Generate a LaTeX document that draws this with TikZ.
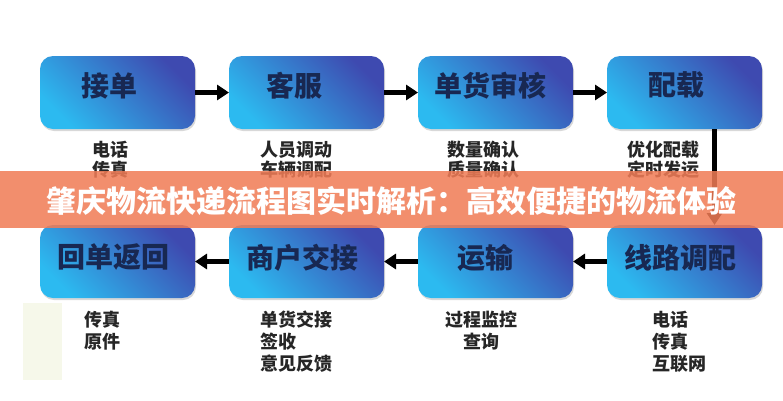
\documentclass[tikz,border=0pt]{standalone}
\usepackage{fontspec}
\setmainfont{Noto Sans CJK SC}
\usepackage{tikz}
\usetikzlibrary{arrows.meta,positioning,shadows}

\definecolor{boxlight}{RGB}{44,186,240}
\definecolor{boxdark}{RGB}{62,74,176}
\definecolor{navy}{RGB}{24,40,82}
\definecolor{banner}{RGB}{241,124,86}
\definecolor{pale}{RGB}{246,248,234}

\begin{document}
\begin{tikzpicture}[x=1pt,y=-1pt,-{Triangle[length=12pt,width=15pt]},line width=4.5pt,
	node distance=189pt]
	\tikzstyle{stage}=[draw=none,rounded corners=13pt,minimum width=155pt,minimum height=73pt,
		outer sep=0pt,top color=boxdark,bottom color=boxlight,shading angle=-45,
		drop shadow={opacity=0.3,shadow xshift=1pt,shadow yshift=-2pt}]
	\tikzstyle{title}=[text=navy,font=\bfseries\fontsize{28}{28}\selectfont]
	\tikzstyle{note}=[text=black!85,font=\bfseries\fontsize{18}{20}\selectfont,align=left,
		anchor=north west,inner sep=0pt]
	
	\fill[white] (0,0) rectangle (783,400);
	\useasboundingbox (0,0) rectangle (783,400);
	\fill[pale] (23,303) rectangle (62,380);
	
	% top row
	\node[stage,label={[title,xshift=-8pt,yshift=7pt]center:接单}] (jd) at (117.5,92.5) {};
	\node[stage,label={[title,xshift=-12pt,yshift=7pt]center:客服}] (kf) [right of=jd] {};
	\node[stage,label={[title,xshift=-5pt,yshift=7pt]center:单货审核}] (sh) [right of=kf] {};
	\node[stage,label={[title,xshift=-8pt,yshift=7pt]center:配载}] (pz) [right of=sh] {};
	% bottom row
	\node[stage,label={[title,xshift=-4pt,yshift=4pt]center:线路调配}] (xl) [below of=pz,node distance=169pt] {};
	\node[stage,label={[title,xshift=-10pt,yshift=4pt]center:运输}] (ys) [left of=xl] {};
	\node[stage,label={[title,xshift=-4pt,yshift=4pt]center:商户交接}] (jj) [left of=ys] {};
	\node[stage,label={[title,xshift=-4pt,yshift=4pt]center:回单返回}] (hd) [left of=jj] {};
	
	\node[note] (jdn) at (90,139) {电话\\传真};
	\node[note] (kfn) at (258,139) {人员调动\\车辆调配};
	\node[note] (shn) at (445,139) {数量确认\\质量确认};
	\node[note] (pzn) at (625,139) {优化配载\\定时发运};
	\node[note,font=\bfseries\fontsize{18}{22}\selectfont] (hdn) at (82,309) {传真\\原件};
	\node[note,font=\bfseries\fontsize{18}{22}\selectfont] (jjn) at (258,309) {单货交接\\签收\\意见反馈};
	\node[note,font=\bfseries\fontsize{18}{22}\selectfont,align=center,anchor=north] (ysn) at (481,309) {过程监控\\查询};
	\node[note,font=\bfseries\fontsize{18}{22}\selectfont] (xln) at (650,309) {电话\\传真\\互联网};
	
	\path (jd) edge (kf)
	(kf) edge (sh)
	(sh) edge (pz)
	([xshift=30pt]pz.south) edge ([xshift=30pt]xl.north)
	(xl) edge (ys)
	(ys) edge (jj)
	(jj) edge (hd);
	
	% banner over the picture
	\fill[banner,opacity=0.86] (0,171) rectangle (783,228);
	\node[text=white,font=\bfseries\fontsize{30}{30}\selectfont] (ttl) at (391.5,201) {肇庆物流快递流程图实时解析：高效便捷的物流体验};
	
\end{tikzpicture}
\end{document}
